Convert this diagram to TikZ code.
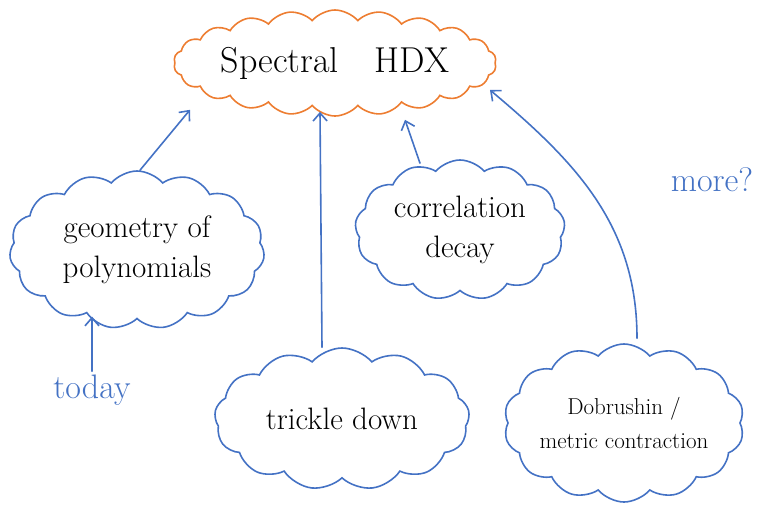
\documentclass[tikz,border=0pt]{standalone}
\usetikzlibrary{shapes.symbols,arrows.meta}
\definecolor{penblue}{RGB}{68,114,196}
\definecolor{penorange}{RGB}{237,125,49}
\tikzset{
  idea/.style={cloud, cloud puffs=#1, cloud puff arc=100, cloud ignores aspect,
    draw=penblue, line width=1.6pt, align=center,
    font=\fontsize{31}{40}\selectfont, inner sep=0pt},
  link/.style={draw=penblue, line width=1.6pt, line cap=round,
    -{Straight Barb[length=8pt,width=14pt]}},
  note/.style={text=penblue, font=\fontsize{34}{38}\selectfont}
}
\begin{document}
\begin{tikzpicture}[x=1pt,y=-1pt]
\useasboundingbox (0,0) rectangle (761,507);
% main topic
\node[idea=22, draw=penorange, minimum width=292, minimum height=106,
  font=\fontsize{36}{40}\selectfont] (hdx) at (335,63) {Spectral\quad HDX};
% ingredients
\node[idea=15, minimum width=255, minimum height=158] (geo) at (137,250) {geometry of\\polynomials};
\node[idea=13, minimum width=210, minimum height=140] (corr) at (460,230) {correlation\\decay};
\node[idea=13, minimum width=255, minimum height=142] (trick) at (342,419) {trickle down};
\node[idea=14, minimum width=220, minimum height=158, font=\fontsize{23}{34}\selectfont]
  (dob) at (624,423) {Dobrushin /\\metric contraction};
% side notes
\node[note] (today) at (92,390) {today};
\node[note] (more) at (712,180) {more?};
% arrows
\draw[link] ([xshift=3pt]geo.north) -- ([xshift=-145pt,yshift=7pt]hdx.south);
\draw[link] ([xshift=-20pt]trick.north) -- ([xshift=-15pt,yshift=5pt]hdx.south);
\draw[link] ([xshift=-40pt,yshift=-4pt]corr.north) -- ([xshift=70pt,yshift=-3pt]hdx.south);
\draw[link] ([xshift=13pt,yshift=5pt]dob.north) to[out=90,in=-40] ([xshift=-6pt,yshift=-27pt]hdx.east);
\draw[link] (today.north) -- ([yshift=3pt]today.north |- geo.south);
\end{tikzpicture}
\end{document}
